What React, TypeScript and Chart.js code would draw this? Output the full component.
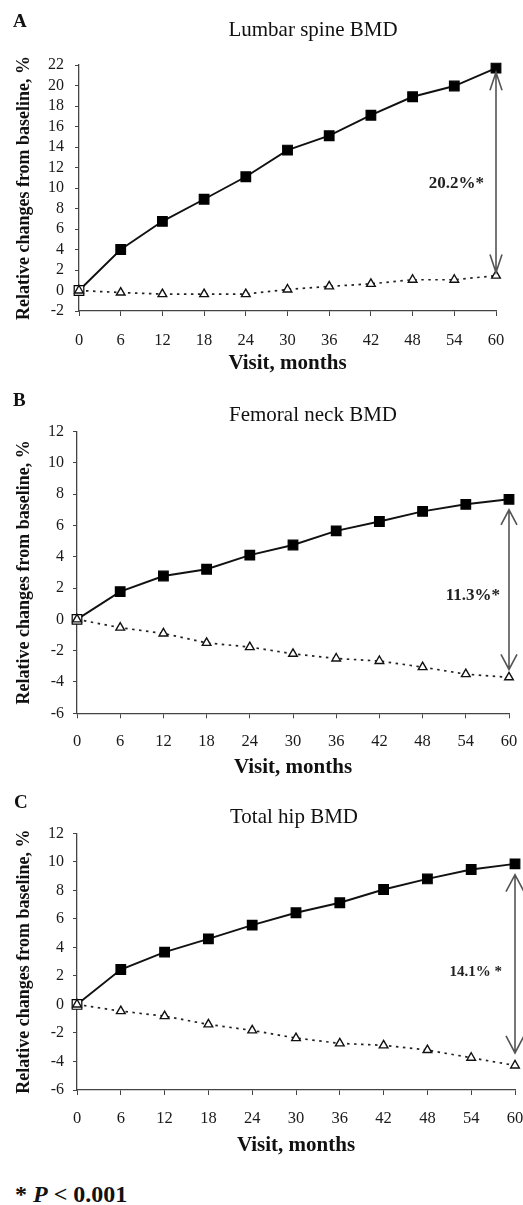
import React, { useEffect, useRef } from "react";
import { Chart, registerables } from "chart.js";

Chart.register(...registerables);

// ---------- data ----------
const months = [0, 6, 12, 18, 24, 30, 36, 42, 48, 54, 60];

const lumbarTreated = [0, 4.0, 6.75, 8.9, 11.1, 13.7, 15.1, 17.1, 18.9, 19.95, 21.7];
const lumbarControl = [0, -0.2, -0.35, -0.35, -0.35, 0.1, 0.4, 0.65, 1.05, 1.05, 1.45];

const femoralTreated = [0, 1.77, 2.77, 3.2, 4.1, 4.75, 5.65, 6.25, 6.9, 7.35, 7.67];
const femoralControl = [0, -0.53, -0.9, -1.5, -1.77, -2.2, -2.5, -2.66, -3.05, -3.5, -3.7];

const hipTreated = [0, 2.45, 3.67, 4.6, 5.56, 6.43, 7.13, 8.06, 8.8, 9.46, 9.86];
const hipControl = [0, -0.47, -0.82, -1.4, -1.82, -2.36, -2.73, -2.87, -3.2, -3.74, -4.28];

const panelLetters = ["A", "B", "C"];
const panelTitles = ["Lumbar spine BMD", "Femoral neck BMD", "Total hip BMD"];
const differenceLabels = ["20.2%*", "11.3%*", "14.1% *"];
const arrowTops = [21.3, 7.0, 9.1];
const arrowBottoms = [1.75, -3.2, -3.4];
const labelYValues = [10.4, 1.5, 2.3];
const yMins = [-2, -6, -6];
const yMaxs = [22, 12, 12];
const xAxisTitle = "Visit, months";
const yAxisTitle = "Relative changes from baseline, %";

const treatedSeries = [lumbarTreated, femoralTreated, hipTreated];
const controlSeries = [lumbarControl, femoralControl, hipControl];

// ---------- layout / style ----------
const FONT = "'Liberation Serif', 'Times New Roman', Times, serif";
const W = 523;

const layouts = [
  { top: 0, height: 380, left: 79, right: 496, chartTop: 65, chartBottom: 311, xTitleY: 363.5, letterX: 13, letterY: 22, titleX: 313, titleY: 30, yTickPad: 11, xTickPad: 15, labelGap: 12, labelSize: 17, headW: 6, headL: 18 },
  { top: 380, height: 410, left: 77, right: 509, chartTop: 51.5, chartBottom: 333.3, xTitleY: 388, letterX: 13, letterY: 21, titleX: 313, titleY: 35, yTickPad: 9, xTickPad: 13, labelGap: 9, labelSize: 17, headW: 8, headL: 15 },
  { top: 790, height: 390, left: 77, right: 515, chartTop: 43.3, chartBottom: 300, xTitleY: 356, letterX: 14, letterY: 13, titleX: 294, titleY: 27, yTickPad: 9, xTickPad: 14, labelGap: 13, labelSize: 15, headW: 9, headL: 17 },
];

const X_TITLE_SIZE = 21;
const Y_TITLE_SIZE = 18;
const Y_TITLE_CENTER = 24;

function Panel({ idx }: { idx: number }) {
  const ref = useRef<HTMLCanvasElement | null>(null);
  const L = layouts[idx];

  useEffect(() => {
    if (!ref.current) return;
    const xLh = X_TITLE_SIZE * 1.2;
    const yLh = Y_TITLE_SIZE * 1.2;
    const xH = L.xTitleY - L.chartBottom + xLh / 2;
    const padLeft = Y_TITLE_CENTER - yLh / 2;
    const padBottom = L.height - L.chartBottom - xH;

    const annot = {
      id: "annot" + idx,
      afterDraw(chart: any) {
        const { ctx } = chart;
        const xs = chart.scales.x;
        const ys = chart.scales.y;
        ctx.save();
        // panel letter
        ctx.fillStyle = "#111";
        ctx.textBaseline = "middle";
        ctx.textAlign = "left";
        ctx.font = `bold 19px ${FONT}`;
        ctx.fillText(panelLetters[idx], L.letterX, L.letterY);
        // panel title
        ctx.textAlign = "center";
        ctx.font = `21px ${FONT}`;
        ctx.fillText(panelTitles[idx], L.titleX, L.titleY);

        // double arrow
        const px = xs.getPixelForValue(60);
        const yT = ys.getPixelForValue(arrowTops[idx]);
        const yB = ys.getPixelForValue(arrowBottoms[idx]);
        ctx.strokeStyle = "#555";
        ctx.lineWidth = 1.6;
        ctx.beginPath();
        ctx.moveTo(px, yT);
        ctx.lineTo(px, yB);
        ctx.moveTo(px - L.headW, yT + L.headL);
        ctx.lineTo(px, yT);
        ctx.lineTo(px + L.headW, yT + L.headL);
        ctx.moveTo(px - L.headW, yB - L.headL);
        ctx.lineTo(px, yB);
        ctx.lineTo(px + L.headW, yB - L.headL);
        ctx.stroke();

        // difference label
        ctx.fillStyle = "#222";
        ctx.textAlign = "right";
        ctx.font = `bold ${L.labelSize}px ${FONT}`;
        ctx.fillText(differenceLabels[idx], px - L.labelGap, ys.getPixelForValue(labelYValues[idx]));
        ctx.restore();
      },
    };

    const treated = treatedSeries[idx];
    const control = controlSeries[idx];

    const chart = new Chart(ref.current, {
      type: "line",
      data: {
        datasets: [
          {
            label: "Control",
            data: months.map((m, i) => ({ x: m, y: control[i] })),
            borderColor: "#222",
            borderWidth: 1.7,
            borderDash: [2.5, 4.5],
            pointStyle: "triangle",
            pointRadius: 5,
            pointBorderWidth: 1.4,
            pointBackgroundColor: "#fff",
            pointBorderColor: "#111",
            clip: false,
          } as any,
          {
            label: "Treated",
            data: months.map((m, i) => ({ x: m, y: treated[i] })),
            borderColor: "#111",
            borderWidth: 1.9,
            pointStyle: "rect",
            pointRadius: 6.8,
            pointBorderWidth: 1.2,
            pointBackgroundColor: months.map((m, i) => (i === 0 ? "#fff" : "#000")),
            pointBorderColor: "#000",
            clip: false,
          } as any,
        ],
      },
      options: {
        animation: false,
        responsive: false,
        devicePixelRatio: 1,
        events: [],
        layout: { padding: { left: padLeft, right: W - L.right, top: L.chartTop, bottom: padBottom } },
        plugins: { legend: { display: false }, tooltip: { enabled: false }, title: { display: false } },
        scales: {
          x: {
            type: "linear",
            min: 0,
            max: 60,
            afterBuildTicks: (s: any) => {
              s.ticks = months.map((v) => ({ value: v }));
            },
            ticks: {
              stepSize: 6,
              autoSkip: false,
              maxRotation: 0,
              padding: L.xTickPad,
              color: "#1a1a1a",
              font: { family: FONT, size: 16.5 },
            },
            grid: { display: true, drawOnChartArea: false, drawTicks: true, tickLength: 5, color: "#444", lineWidth: 1 },
            border: { display: true, color: "#444", width: 1.3 },
            title: { display: true, text: xAxisTitle, color: "#111", padding: 0, font: { family: FONT, size: X_TITLE_SIZE, weight: "bold" } },
            afterFit: (s: any) => {
              s.height = xH;
              s.paddingLeft = 0;
              s.paddingRight = 0;
            },
          },
          y: {
            type: "linear",
            min: yMins[idx],
            max: yMaxs[idx],
            ticks: {
              stepSize: 2,
              autoSkip: false,
              padding: L.yTickPad,
              color: "#1a1a1a",
              font: { family: FONT, size: 16 },
            },
            grid: { display: true, drawOnChartArea: false, drawTicks: true, tickLength: 4, color: "#444", lineWidth: 1 },
            border: { display: true, color: "#444", width: 1.3 },
            title: { display: true, text: yAxisTitle, color: "#111", padding: 0, font: { family: FONT, size: Y_TITLE_SIZE, weight: "bold" } },
            afterFit: (s: any) => {
              s.width = L.left - padLeft;
              s.paddingTop = 0;
              s.paddingBottom = 0;
            },
          },
        },
      } as any,
      plugins: [annot],
    });
    return () => chart.destroy();
  }, []);

  return (
    <canvas
      ref={ref}
      width={W}
      height={L.height}
      style={{ position: "absolute", left: 0, top: L.top, width: W, height: L.height, display: "block" }}
    />
  );
}

export default function App() {
  return (
    <div
      style={{
        position: "absolute",
        left: 0,
        top: 0,
        width: W,
        height: 1205,
        overflow: "hidden",
        background: "#fff",
      }}
    >
      <Panel idx={0} />
      <Panel idx={1} />
      <Panel idx={2} />
      <div
        style={{
          position: "absolute",
          left: 15,
          top: 1181,
          fontFamily: FONT,
          fontSize: 24,
          fontWeight: "bold",
          lineHeight: "26px",
          color: "#111",
          whiteSpace: "nowrap",
        }}
      >
        * <i>P</i> &lt; 0.001
      </div>
    </div>
  );
}
